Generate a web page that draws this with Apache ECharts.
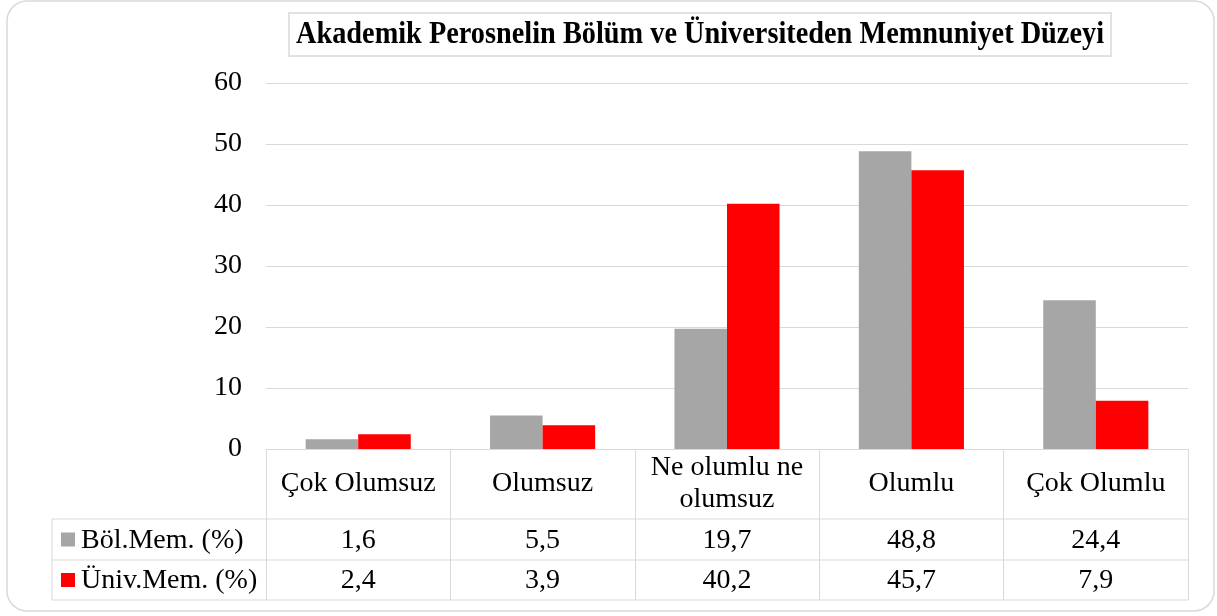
<!DOCTYPE html>
<html>
<head>
<meta charset="utf-8">
<script src="https://cdn.jsdelivr.net/npm/echarts@6/dist/echarts.min.js"></script>
<style>
html,body{margin:0;padding:0;background:#fff;}
#c{width:1217px;height:616px;}
</style>
</head>
<body>
<div id="c"></div>
<script>
const titleText = 'Akademik Perosnelin Bölüm ve Üniversiteden Memnuniyet Düzeyi';
const categories = ['Çok Olumsuz', 'Olumsuz', 'Ne olumlu ne\nolumsuz', 'Olumlu', 'Çok Olumlu'];
const seriesNames = ['Böl.Mem. (%)', 'Üniv.Mem. (%)'];
const bolMem = [1.6, 5.5, 19.7, 48.8, 24.4];
const univMem = [2.4, 3.9, 40.2, 45.7, 7.9];
const yMin = 0, yMax = 60, yInterval = 10;

const colors = ['#a6a6a6', '#ff0000'];
const FONT = '"Liberation Serif", "Times New Roman", serif';
const LINE = '#d9d9d9';
const FS = 28;

const chart = echarts.init(document.getElementById('c'), null, {renderer: 'canvas'});

const option = {
  animation: false,
  backgroundColor: '#fff',
  grid: {left: 266, right: 29, top: 83, bottom: 167, containLabel: false},
  xAxis: {
    type: 'category',
    data: categories,
    axisLine: {show: true, lineStyle: {color: LINE, width: 1}},
    axisTick: {show: true, interval: 0, length: 151, lineStyle: {color: LINE, width: 1}},
    axisLabel: {
      interval: 0, margin: 35, verticalAlign: 'middle',
      fontFamily: FONT, fontSize: FS, color: '#000', lineHeight: 32
    },
    splitLine: {show: false}
  },
  yAxis: {
    type: 'value', min: yMin, max: yMax, interval: yInterval,
    axisLine: {show: false}, axisTick: {show: false},
    axisLabel: {fontFamily: FONT, fontSize: FS, color: '#000', margin: 24},
    splitLine: {show: true, lineStyle: {color: LINE, width: 1}}
  },
  series: [
    {name: seriesNames[0], type: 'bar', data: bolMem, barGap: '0%', barCategoryGap: '43%',
     itemStyle: {color: colors[0]}},
    {name: seriesNames[1], type: 'bar', data: univMem, barGap: '0%', barCategoryGap: '43%',
     itemStyle: {color: colors[1]}}
  ]
};
chart.setOption(option);

function fmt(v) { return v.toFixed(1).replace('.', ','); }

const x0 = chart.convertToPixel({xAxisIndex: 0}, 0);
const x1 = chart.convertToPixel({xAxisIndex: 0}, 1);
const band = x1 - x0;
const gLeft = x0 - band / 2;
const gRight = gLeft + band * categories.length;
const yBase = chart.convertToPixel({yAxisIndex: 0}, 0);

const row1Top = yBase + 70;
const row2Top = row1Top + 41;
const tableBottom = row2Top + 40;
const tableLeft = 52;

const elements = [];
elements.push({type: 'rect', shape: {x: 7, y: 1, width: 1207, height: 610, r: 20},
  style: {fill: 'none', stroke: LINE, lineWidth: 1.5}, z: 0});

const ctx = document.createElement('canvas').getContext('2d');
ctx.font = 'bold 31px ' + FONT;
const tw = ctx.measureText(titleText).width;
const targetW = 808;
const sx = targetW / tw;
elements.push({type: 'rect', shape: {x: 289, y: 13, width: 822, height: 43},
  style: {fill: '#fff', stroke: LINE, lineWidth: 1.5}, z: 1});
elements.push({type: 'text', x: 700, y: 35, scaleX: sx, z: 2,
  style: {text: titleText, font: 'bold 31px ' + FONT, fill: '#000', align: 'center', verticalAlign: 'middle'}});

[row1Top, row2Top, tableBottom].forEach(function (y) {
  elements.push({type: 'line', shape: {x1: tableLeft, y1: y, x2: gRight, y2: y},
    style: {stroke: LINE, lineWidth: 1}, z: 3});
});
elements.push({type: 'line', shape: {x1: tableLeft, y1: row1Top, x2: tableLeft, y2: tableBottom},
  style: {stroke: LINE, lineWidth: 1}, z: 3});

const rows = [bolMem, univMem];
const rowTops = [row1Top, row2Top];
const rowH = [41, 40];
rows.forEach(function (vals, r) {
  const cy = rowTops[r] + rowH[r] / 2;
  elements.push({type: 'rect', shape: {x: 61, y: cy - 7, width: 14, height: 14},
    style: {fill: colors[r]}, z: 4});
  elements.push({type: 'text', x: 81, y: cy + 1, z: 4,
    style: {text: seriesNames[r], font: FS + 'px ' + FONT, fill: '#000', align: 'left', verticalAlign: 'middle'}});
  vals.forEach(function (v, i) {
    const cx = chart.convertToPixel({xAxisIndex: 0}, i);
    elements.push({type: 'text', x: cx, y: cy + 1, z: 4,
      style: {text: fmt(v), font: FS + 'px ' + FONT, fill: '#000', align: 'center', verticalAlign: 'middle'}});
  });
});

chart.setOption({graphic: {elements: elements}});
</script>
</body>
</html>
